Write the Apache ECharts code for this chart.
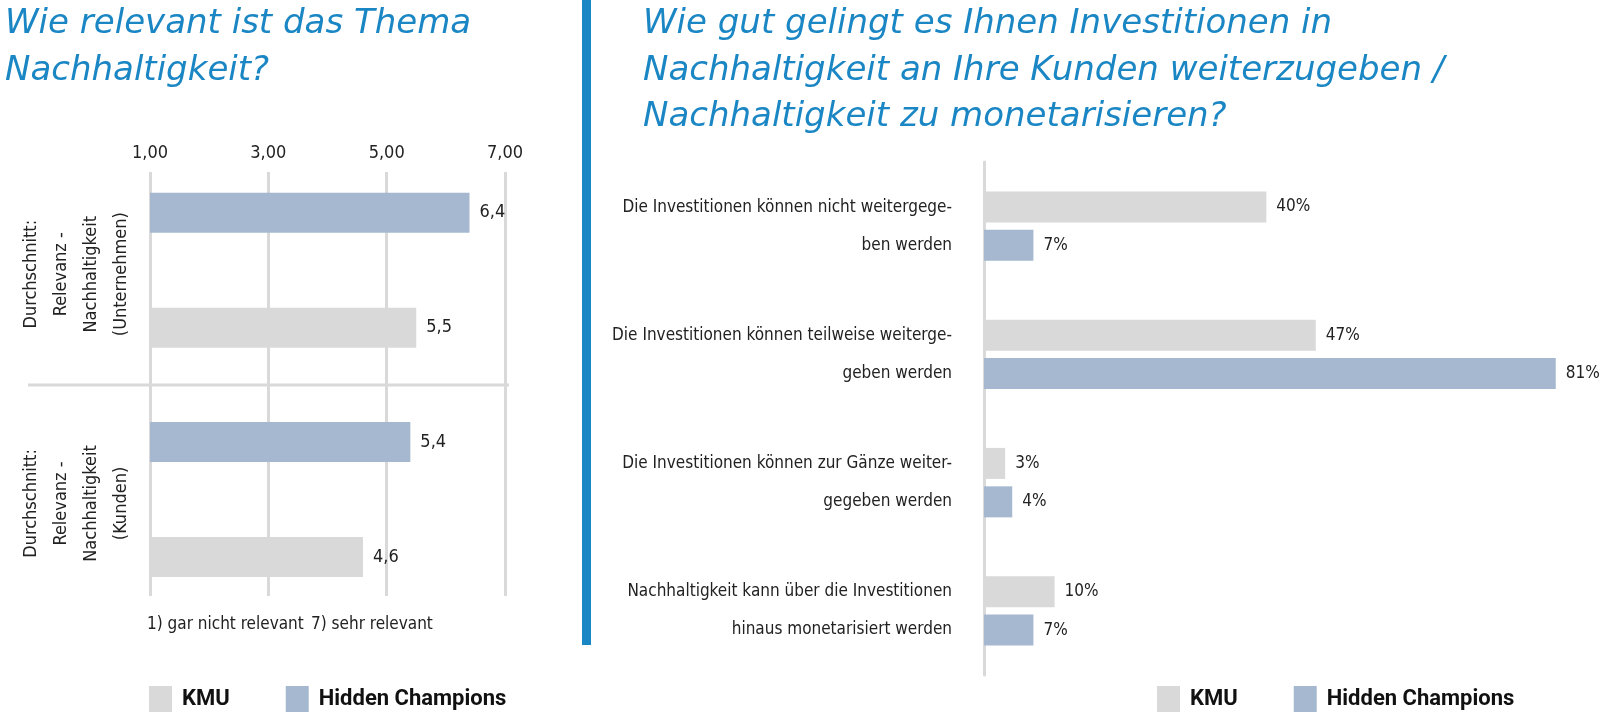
<!DOCTYPE html>
<html><head><meta charset="utf-8">
<script src="https://cdn.jsdelivr.net/npm/echarts@6/dist/echarts.min.js"></script>
<style>html,body{margin:0;padding:0;background:#fff}#c{width:1600px;height:712px}</style>
</head><body><div id="c"></div>
<script>
// ---- data ----
const seriesNames = ['KMU', 'Hidden Champions'];
const leftCategories = ['Durchschnitt:\nRelevanz -\nNachhaltigkeit\n(Unternehmen)', 'Durchschnitt:\nRelevanz -\nNachhaltigkeit\n(Kunden)'];
const leftKMU = [5.5, 4.6];
const leftHC = [6.4, 5.4];
const leftMin = 1, leftMax = 7, leftStep = 2;
const rightCategories = [
  'Die Investitionen können nicht weitergege-\nben werden',
  'Die Investitionen können teilweise weiterge-\ngeben werden',
  'Die Investitionen können zur Gänze weiter-\ngegeben werden',
  'Nachhaltigkeit kann über die Investitionen\nhinaus monetarisiert werden'
];
const rightKMU = [40, 47, 3, 10];
const rightHC = [7, 81, 4, 7];
const leftTitle = 'Wie relevant ist das Thema\nNachhaltigkeit?';
const rightTitle = 'Wie gut gelingt es Ihnen Investitionen in\nNachhaltigkeit an Ihre Kunden weiterzugeben /\nNachhaltigkeit zu monetarisieren?';
const scaleNoteLow = '1) gar nicht relevant';
const scaleNoteHigh = '7) sehr relevant';

// ---- style ----
const BODY = "'Liberation Sans Narrow', 'DejaVu Sans Condensed', Roboto, sans-serif";
const TITLE = "'DejaVu Sans', 'Open Sans', sans-serif";
const LEG = "Roboto, 'Noto Sans', sans-serif";
const C_KMU = '#d9d9d9', C_HC = '#a5b8d0', C_BLUE = '#1a86c4', C_TXT = '#222222', C_GRID = '#d9d9d9';
const comma = v => String(v).replace('.', ',');

const chart = echarts.init(document.getElementById('c'), null, {renderer: 'canvas'});
const titleStyle = {fontFamily: TITLE, fontStyle: 'italic', fontWeight: 'normal', fontSize: 34, lineHeight: 46.5, color: C_BLUE};
const noteStyle = {fontFamily: BODY, fontWeight: 'normal', fontSize: 17, lineHeight: 22, color: C_TXT};
const legendCommon = {
  data: seriesNames, icon: 'rect', itemWidth: 23, itemHeight: 26, itemGap: 56, top: 686, padding: 0,
  selectedMode: false,
  textStyle: {fontFamily: LEG, fontWeight: 'bold', fontSize: 22, color: '#111', padding: [0, 0, 0, 5]}
};
chart.setOption({
  animation: false,
  backgroundColor: '#fff',
  title: [
    {text: leftTitle, left: 5, top: 1, padding: 0, textStyle: titleStyle},
    {text: rightTitle, left: 643, top: 1, padding: 0, textStyle: titleStyle},
    {text: scaleNoteLow, left: 147, top: 614, padding: 0, textStyle: noteStyle},
    {text: scaleNoteHigh, left: 311, top: 614, padding: 0, textStyle: noteStyle}
  ],
  legend: [
    Object.assign({left: 149}, legendCommon),
    Object.assign({left: 1157}, legendCommon)
  ],
  grid: [
    {left: 150, right: 1095, top: 155.6, bottom: 97.9, outerBoundsMode: 'none'},
    {left: 150, right: 1095, top: 172, bottom: 116, outerBoundsMode: 'none'},
    {left: 984, right: 16, top: 162, bottom: 37, outerBoundsMode: 'none'}
  ],
  xAxis: [
    {gridIndex: 0, type: 'value', min: leftMin, max: leftMax, show: false},
    {gridIndex: 1, type: 'value', min: leftMin, max: leftMax, interval: leftStep, position: 'top',
      axisLine: {show: false}, axisTick: {show: false},
      axisLabel: {margin: 10, fontFamily: BODY, fontSize: 18, color: C_TXT, formatter: v => v.toFixed(2).replace('.', ',')},
      splitLine: {show: true, lineStyle: {color: C_GRID, width: 3}}},
    {gridIndex: 2, type: 'value', min: 0, max: 85, show: false}
  ],
  yAxis: [
    {gridIndex: 0, type: 'category', data: leftCategories, inverse: true,
      axisLine: {show: false}, axisTick: {show: false}, splitLine: {show: false},
      axisLabel: {rotate: 90, margin: 14, interval: 0, fontFamily: BODY, fontSize: 18, lineHeight: 30, color: C_TXT, padding: [0, 8, 0, 0]}},
    {gridIndex: 1, type: 'category', data: leftCategories, show: false},
    {gridIndex: 2, type: 'category', data: rightCategories, inverse: true,
      axisLine: {show: true, lineStyle: {color: C_GRID, width: 3}}, axisTick: {show: false}, splitLine: {show: false},
      axisLabel: {margin: 32, interval: 0, fontFamily: BODY, fontSize: 17, lineHeight: 38, color: C_TXT, align: 'right'}}
  ],
  series: [
    {name: seriesNames[1], type: 'bar', xAxisIndex: 0, yAxisIndex: 0, data: leftHC, barWidth: 40, barGap: '187%',
      itemStyle: {color: C_HC},
      label: {show: true, position: 'right', distance: 10, fontFamily: BODY, fontSize: 18, color: C_TXT, formatter: p => comma(p.value)}},
    {name: seriesNames[0], type: 'bar', xAxisIndex: 0, yAxisIndex: 0, data: leftKMU, barWidth: 40, barGap: '187%',
      itemStyle: {color: C_KMU},
      label: {show: true, position: 'right', distance: 10, fontFamily: BODY, fontSize: 18, color: C_TXT, formatter: p => comma(p.value)}},
    {name: seriesNames[0], type: 'bar', xAxisIndex: 2, yAxisIndex: 2, data: rightKMU, barWidth: 31, barGap: '24%',
      itemStyle: {color: C_KMU},
      label: {show: true, position: 'right', distance: 10, fontFamily: BODY, fontSize: 17, color: C_TXT, formatter: p => p.value + '%'}},
    {name: seriesNames[1], type: 'bar', xAxisIndex: 2, yAxisIndex: 2, data: rightHC, barWidth: 31, barGap: '24%',
      itemStyle: {color: C_HC},
      label: {show: true, position: 'right', distance: 10, fontFamily: BODY, fontSize: 17, color: C_TXT, formatter: p => p.value + '%'}}
  ],
  graphic: [
    {type: 'rect', left: 582, top: 0, shape: {width: 9, height: 645}, style: {fill: C_BLUE}, silent: true},
    {type: 'line', shape: {x1: 28, y1: 385, x2: 509, y2: 385}, style: {stroke: C_GRID, lineWidth: 3}, silent: true}
  ]
});
</script></body></html>
